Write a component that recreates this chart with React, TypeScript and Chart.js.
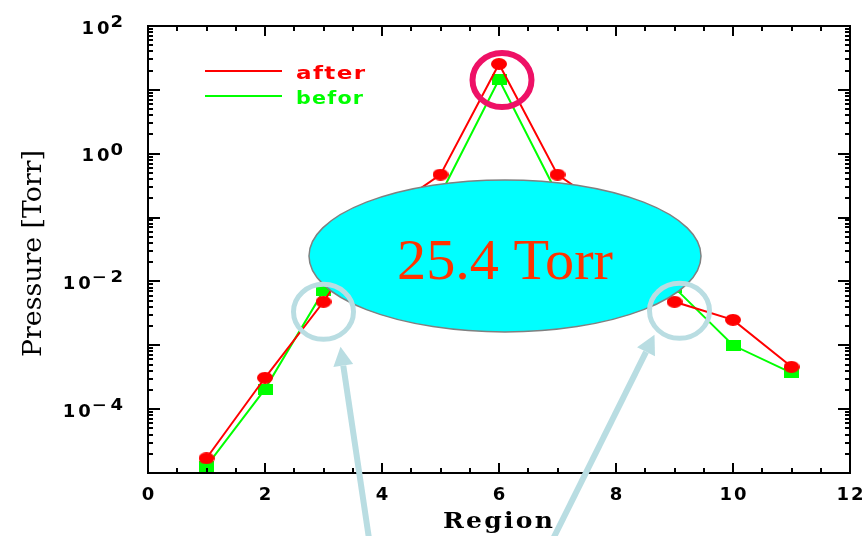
import React, { useEffect, useRef } from "react";
import { Chart, registerables } from "chart.js";

Chart.register(...registerables);

// ---------------- data ----------------
const regions = [1, 2, 3, 4, 5, 6, 7, 8, 9, 10, 11];
const afterValues = [1.7e-5, 3.1e-4, 4.8e-3, 0.11, 0.47, 25.4, 0.47, 0.11, 4.8e-3, 2.5e-3, 4.6e-4];
const beforValues = [1.28e-5, 2.06e-4, 7.1e-3, 0.06, 0.23, 14.5, 0.23, 0.06, 8.0e-3, 1.0e-3, 3.7e-4];
const seriesNames = ["after", "befor"];
const xTickValues = [0, 2, 4, 6, 8, 10, 12];
const yTickExponents = [2, 0, -2, -4];
const xTitle = "Region";
const yTitle = "Pressure [Torr]";
const calloutText = "25.4 Torr";

const X_MIN = 0;
const X_MAX = 12;
const X_MINOR = 0.5;
const Y_MIN = 1e-5;
const Y_MAX = 100;

const RED = "#ff0000";
const GREEN = "#00ff00";
const LIGHTBLUE = "#b9dde2";

function makeEllipse(color: string, w: number, h: number) {
  const c = document.createElement("canvas");
  c.width = w;
  c.height = h;
  const g = c.getContext("2d")!;
  g.fillStyle = color;
  g.beginPath();
  g.ellipse(w / 2, h / 2, w / 2, h / 2, 0, 0, Math.PI * 2);
  g.fill();
  return c;
}
function makeRect(color: string, w: number, h: number) {
  const c = document.createElement("canvas");
  c.width = w;
  c.height = h;
  const g = c.getContext("2d")!;
  g.fillStyle = color;
  g.fillRect(0, 0, w, h);
  return c;
}

function drawText(
  ctx: CanvasRenderingContext2D,
  text: string,
  x: number,
  y: number,
  o: { font: string; color: string; align?: "left" | "center" | "right"; spacing?: number; width?: number; scaleX?: number }
) {
  ctx.save();
  ctx.font = o.font;
  (ctx as any).letterSpacing = (o.spacing || 0) + "px";
  ctx.textAlign = "left";
  ctx.textBaseline = "alphabetic";
  let w = ctx.measureText(text).width;
  if (o.spacing) w -= o.spacing;
  let sx = o.scaleX || 1;
  if (o.width) sx = o.width / w;
  const total = w * sx;
  let start = x;
  if (o.align === "center") start = x - total / 2;
  else if (o.align === "right") start = x - total;
  ctx.translate(start, y);
  ctx.scale(sx, 1);
  ctx.fillStyle = o.color;
  ctx.fillText(text, 0, 0);
  ctx.restore();
  return total;
}

function ring(ctx: CanvasRenderingContext2D, cx: number, cy: number, rx: number, ry: number, color: string, lw: number) {
  ctx.save();
  ctx.strokeStyle = color;
  ctx.lineWidth = lw;
  ctx.beginPath();
  ctx.ellipse(cx, cy, rx, ry, 0, 0, Math.PI * 2);
  ctx.stroke();
  ctx.restore();
}

function arrow(ctx: CanvasRenderingContext2D, tx: number, ty: number, fx: number, fy: number, color: string) {
  const ang = Math.atan2(fy - ty, fx - tx);
  const headLen = 19;
  const half = 10;
  const bx = tx + Math.cos(ang) * headLen;
  const by = ty + Math.sin(ang) * headLen;
  ctx.save();
  ctx.strokeStyle = color;
  ctx.fillStyle = color;
  ctx.lineWidth = 6;
  ctx.beginPath();
  ctx.moveTo(fx, fy);
  ctx.lineTo(bx, by);
  ctx.stroke();
  ctx.beginPath();
  ctx.moveTo(tx, ty);
  ctx.lineTo(bx + Math.cos(ang + Math.PI / 2) * half, by + Math.sin(ang + Math.PI / 2) * half);
  ctx.lineTo(bx - Math.cos(ang + Math.PI / 2) * half, by - Math.sin(ang + Math.PI / 2) * half);
  ctx.closePath();
  ctx.fill();
  ctx.restore();
}

const axesPlugin = {
  id: "idlAxes",
  afterDatasetsDraw(chart: any) {
    const { ctx, chartArea: a, scales } = chart;
    const xs = scales.x;
    const ys = scales.y;
    ctx.save();
    ctx.strokeStyle = "#000";
    ctx.lineWidth = 2;
    ctx.strokeRect(a.left, a.top, a.right - a.left, a.bottom - a.top);
    ctx.beginPath();
    for (let v = X_MIN; v <= X_MAX + 1e-9; v += X_MINOR) {
      const px = Math.round(xs.getPixelForValue(v));
      const major = xTickValues.includes(v);
      const len = major ? 10 : 5;
      ctx.moveTo(px, a.bottom);
      ctx.lineTo(px, a.bottom - len);
      ctx.moveTo(px, a.top);
      ctx.lineTo(px, a.top + len);
    }
    for (let e = -5; e <= 2; e++) {
      for (let m = 1; m <= 9; m++) {
        const v = m * Math.pow(10, e);
        if (v < Y_MIN * 0.999 || v > Y_MAX * 1.001) continue;
        const py = Math.round(ys.getPixelForValue(v));
        const len = m === 1 ? 12 : 5;
        ctx.moveTo(a.left, py);
        ctx.lineTo(a.left + len, py);
        ctx.moveTo(a.right, py);
        ctx.lineTo(a.right - len, py);
      }
    }
    ctx.stroke();
    ctx.restore();

    // x tick labels
    for (const v of xTickValues) {
      drawText(ctx, String(v), xs.getPixelForValue(v), a.bottom + 27, {
        font: "bold 18px 'DejaVu Sans'",
        color: "#000",
        align: "center",
        spacing: 2,
      });
    }
    // y tick labels 10^n
    for (const e of yTickExponents) {
      const py = ys.getPixelForValue(Math.pow(10, e));
      const expStr = e < 0 ? "\u2212" + String(-e) : String(e);
      const ew = drawText(ctx, expStr, a.left - 25, py + 1, {
        font: "bold 15px 'DejaVu Sans'",
        color: "#000",
        align: "right",
        spacing: 3,
        scaleX: 1.2,
      });
      drawText(ctx, "10", a.left - 25 - ew - 1, py + 7.5, {
        font: "bold 18px 'DejaVu Sans'",
        color: "#000",
        align: "right",
        spacing: 3,
      });
    }
    // axis titles
    drawText(ctx, xTitle, (a.left + a.right) / 2 - 1, a.bottom + 55, {
      font: "bold 22px 'DejaVu Serif'",
      color: "#000",
      align: "center",
      spacing: 2,
      width: 110,
    });
    ctx.save();
    ctx.translate(41, (a.top + a.bottom) / 2 + 4);
    ctx.rotate(-Math.PI / 2);
    drawText(ctx, yTitle, 0, 0, {
      font: "26px 'DejaVu Serif'",
      color: "#000",
      align: "center",
      width: 207,
    });
    ctx.restore();

    // legend
    const ds = chart.data.datasets;
    const legendX = a.left + 57;
    const legendY = a.top + 45;
    ds.forEach((d: any, i: number) => {
      const y = legendY + i * 25;
      ctx.save();
      ctx.strokeStyle = d.borderColor;
      ctx.lineWidth = 2;
      ctx.beginPath();
      ctx.moveTo(legendX, y);
      ctx.lineTo(legendX + 77, y);
      ctx.stroke();
      ctx.restore();
      drawText(ctx, d.label, legendX + 91, y + 7.5, {
        font: "bold 17px 'DejaVu Sans'",
        color: d.borderColor,
        align: "left",
        spacing: 1,
        width: i === 0 ? 69 : 67,
      });
    });
  },
  afterDraw(chart: any) {
    const { ctx, scales } = chart;
    const xs = scales.x;
    const ys = scales.y;
    // callout ellipse
    const ex = xs.getPixelForValue(6) + 6;
    const ey = ys.getPixelForValue(Math.pow(10, -1.6));
    ctx.save();
    ctx.fillStyle = "#00ffff";
    ctx.strokeStyle = "#808080";
    ctx.lineWidth = 1.5;
    ctx.beginPath();
    ctx.ellipse(ex, ey, 196, 76, 0, 0, Math.PI * 2);
    ctx.fill();
    ctx.stroke();
    ctx.restore();
    drawText(ctx, calloutText, ex, ey + 23, {
      font: "58px 'Liberation Serif'",
      color: "#ff3300",
      align: "center",
      width: 216,
    });

    // peak ring
    const px6 = xs.getPixelForValue(6);
    ring(ctx, px6 + 3, ys.getPixelForValue(afterValues[5]) + 16, 29.5, 27, "#ee1166", 6);

    // light blue rings
    const l = { x: xs.getPixelForValue(3), y: ys.getPixelForValue(afterValues[2]) + 10 };
    const r = { x: xs.getPixelForValue(9) + 5, y: ys.getPixelForValue(afterValues[8]) + 9 };
    ring(ctx, l.x, l.y, 30, 27.5, LIGHTBLUE, 5);
    ring(ctx, r.x, r.y, 30, 27.5, LIGHTBLUE, 5);
    arrow(ctx, l.x + 17, l.y + 35, l.x + 46, chart.height + 6, LIGHTBLUE);
    arrow(ctx, r.x - 25, r.y + 24, r.x - 128, chart.height + 6, LIGHTBLUE);
  },
};

export default function App() {
  const ref = useRef<HTMLCanvasElement | null>(null);
  useEffect(() => {
    if (!ref.current) return;
    const redPt = makeEllipse(RED, 16, 12);
    const greenPt = makeRect(GREEN, 15, 11);
    const chart = new Chart(ref.current, {
      type: "line",
      data: {
        datasets: [
          {
            label: seriesNames[0],
            data: regions.map((r, i) => ({ x: r, y: afterValues[i] })),
            borderColor: RED,
            backgroundColor: RED,
            borderWidth: 2,
            pointStyle: redPt as any,
            pointRadius: 8,
            tension: 0,
          },
          {
            label: seriesNames[1],
            data: regions.map((r, i) => ({ x: r, y: beforValues[i] })),
            borderColor: GREEN,
            backgroundColor: GREEN,
            borderWidth: 2,
            pointStyle: greenPt as any,
            pointRadius: 8,
            tension: 0,
          },
        ],
      },
      options: {
        animation: false,
        responsive: true,
        maintainAspectRatio: false,
        layout: { padding: { left: 148, right: 18, top: 26, bottom: 63 } },
        scales: {
          x: { type: "linear", min: X_MIN, max: X_MAX, display: false },
          y: { type: "logarithmic", min: Y_MIN, max: Y_MAX, display: false },
        },
        plugins: { legend: { display: false }, tooltip: { enabled: false } },
        events: [],
      },
      plugins: [axesPlugin],
    });
    return () => chart.destroy();
  }, []);
  return (
    <div style={{ position: "fixed", left: 0, top: 0, width: 868, height: 536, background: "#fff" }}>
      <canvas ref={ref} style={{ display: "block", width: "100%", height: "100%" }} />
    </div>
  );
}
